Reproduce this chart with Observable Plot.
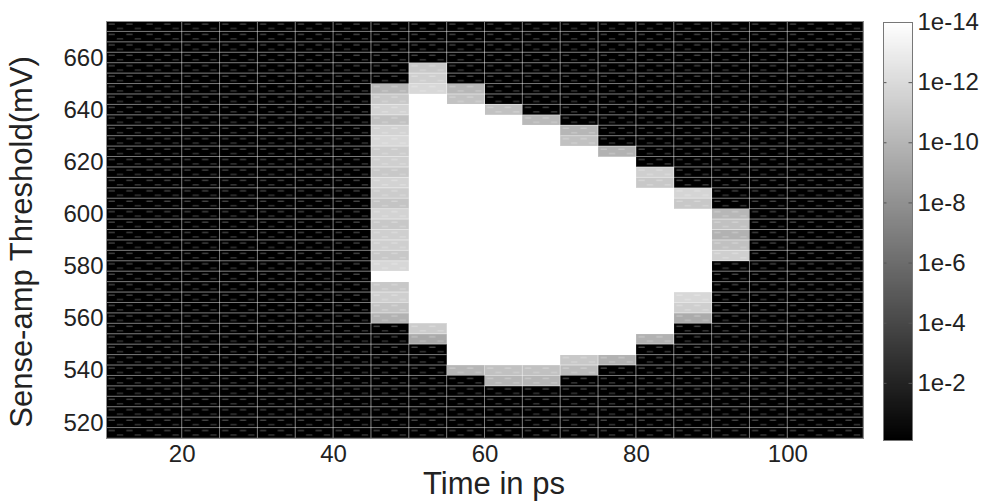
<!DOCTYPE html>
<html><head><meta charset="utf-8">
<script src="https://cdn.jsdelivr.net/npm/d3@7"></script>
<script src="https://cdn.jsdelivr.net/npm/@observablehq/plot@0.6"></script>
<style>
html,body{margin:0;padding:0;background:#fff;}
#wrap{position:relative;width:991px;height:501px;overflow:hidden;background:#fff;}
#wrap svg{position:absolute;top:0;}
</style></head><body><div id="wrap"></div>
<script>
// Column boundaries (ps) and row boundaries (mV)
const xEdges = [10, 20, 25, 30, 35, 40, 45, 50, 55, 60, 65, 70, 75, 80, 85, 90, 95, 100, 110];
const yEdges = d3.range(514, 678, 4); // 514 ... 674
const xTicks = [20, 40, 60, 80, 100];
const yTicks = [520, 540, 560, 580, 600, 620, 640, 660];
const colorTicks = [1e-14, 1e-12, 1e-10, 1e-8, 1e-6, 1e-4, 1e-2];
const backgroundExp = -0.05; // log10 error rate of the dark region

// Columns (left edge, ps) that contain non-dark cells, with runs [top mV, bottom mV, log10 error rate]
const grayColumns = [45, 50, 55, 60, 65, 70, 75, 80, 85, 90];
const grayRuns = [
  [[650,646,-10.0],[646,642,-11.0],[642,638,-11.6],[638,634,-10.6],[634,630,-11.6],[630,626,-11.9],
   [626,622,-11.2],[622,618,-11.4],[618,614,-11.0],[614,610,-11.6],[610,606,-11.2],[606,602,-10.8],
   [602,598,-11.6],[598,594,-11.0],[594,590,-11.4],[590,586,-11.4],[586,582,-11.0],[582,578,-11.8],
   [578,574,-14],[574,570,-11.0],[570,566,-11.4],[566,562,-10.8],[562,558,-9.8]],
  [[658,654,-11.0],[654,650,-11.4],[650,646,-11.9],[646,558,-14],[558,554,-11.2],[554,550,-9.3]],
  [[650,646,-10.1],[646,642,-10.7],[642,542,-14],[542,538,-10.0]],
  [[642,638,-10.6],[638,542,-14],[542,538,-10.6],[538,534,-10.0]],
  [[638,634,-10.2],[634,542,-14],[542,538,-10.6],[538,534,-10.0]],
  [[634,630,-10.0],[630,626,-10.6],[626,546,-14],[546,542,-11.0],[542,538,-10.3]],
  [[626,622,-9.8],[622,546,-14],[546,542,-9.8]],
  [[618,614,-11.4],[614,610,-11.0],[610,554,-14],[554,550,-9.8]],
  [[610,606,-11.7],[606,602,-11.0],[602,570,-14],[570,566,-11.9],[566,562,-11.4],[562,558,-9.4]],
  [[602,598,-10.1],[598,594,-10.6],[594,590,-9.8],[590,586,-10.6],[586,582,-11.4]]
];

const cells = [];
for (let i = 0; i < xEdges.length - 1; i++) {
  const x1 = xEdges[i], x2 = xEdges[i + 1];
  const ci = grayColumns.indexOf(x1);
  for (let j = 0; j < yEdges.length - 1; j++) {
    const y1 = yEdges[j], y2 = yEdges[j + 1], yc = (y1 + y2) / 2;
    let e = backgroundExp;
    if (ci >= 0) {
      const r = grayRuns[ci].find(r => yc < r[0] && yc > r[1]);
      if (r) e = r[2];
    }
    cells.push({x1, x2, y1, y2, exp: e, value: Math.pow(10, e)});
  }
}

const FONT = "'Liberation Sans', Arial, Helvetica, sans-serif";
const colorScale = {type: "log", domain: [1e-14, Math.pow(10, -0.1)], range: ["#ffffff", "#000000"], interpolate: "rgb", clamp: true};

const main = Plot.plot({
  width: 991, height: 501,
  marginLeft: 106, marginRight: 128, marginTop: 21, marginBottom: 63,
  style: {fontSize: "24px", fontFamily: FONT, color: "#222", background: "transparent", overflow: "visible"},
  x: {domain: [10, 110], ticks: xTicks, tickSize: 0, tickPadding: 6, label: null},
  y: {domain: [514, 674], ticks: yTicks, tickSize: 0, tickPadding: 3, label: null},
  color: colorScale,
  marks: [
    Plot.rect(cells, {x1: "x1", x2: "x2", y1: "y1", y2: "y2", fill: "value", shapeRendering: "crispEdges"}),
    Plot.rect(cells.filter(d => d.exp > -13.5), {x1: "x1", x2: "x2", y1: "y1", y2: "y2",
      fill: "url(#sa-dash)", stroke: "rgba(255,255,255,0.28)", strokeWidth: 1}),
    Plot.frame({stroke: "#8a8a8a"}),
    Plot.text(["Time in ps"], {text: d => d, frameAnchor: "bottom", lineAnchor: "top", dy: 33, dx: 9, fontSize: 31, fill: "#222"}),
    Plot.text(["Sense-amp Threshold(mV)"], {text: d => d, frameAnchor: "left", rotate: -90, textAnchor: "middle", lineAnchor: "middle", dx: -84, dy: 12, fontSize: 31, fill: "#222"})
  ]
});

// dash texture pattern aligned with the cell grid
{
  const sx = main.scale("x"), sy = main.scale("y");
  const px = sx.apply(20), pw = sx.apply(25) - sx.apply(20);
  const py = sy.apply(674), ph = sy.apply(670) - sy.apply(674);
  const pat = d3.select(main).insert("defs", ":first-child").append("pattern")
    .attr("id", "sa-dash").attr("patternUnits", "userSpaceOnUse")
    .attr("x", px).attr("y", py).attr("width", pw).attr("height", ph);
  const dashes = [[0.08,0.30,0.22],[0.55,0.30,0.69],[0.30,0.72,0.44],[0.77,0.72,0.91]];
  for (const [a, yy, b] of dashes) {
    pat.append("line").attr("x1", a * pw).attr("x2", b * pw).attr("y1", yy * ph).attr("y2", yy * ph)
      .attr("stroke", "rgba(255,255,255,0.26)").attr("stroke-width", 1.3).attr("stroke-linecap", "round");
  }
}

const cbStops = d3.range(-14, -0.1, 0.05);
const colorbar = Plot.plot({
  width: 131, height: 501,
  marginLeft: 23, marginRight: 79, marginTop: 22, marginBottom: 61,
  style: {fontSize: "24px", fontFamily: FONT, color: "#222", background: "transparent", overflow: "visible"},
  x: {domain: [0, 1], axis: null},
  y: {type: "log", domain: [1e-14, Math.pow(10, -0.1)], reverse: true, axis: "right", ticks: colorTicks,
      tickFormat: d => "1e" + Math.round(Math.log10(d)), tickSize: 0, tickPadding: 5, label: null},
  color: colorScale,
  marks: [
    Plot.rect(cbStops, {x1: 0, x2: 1, y1: e => Math.pow(10, e), y2: e => Math.pow(10, Math.min(e + 0.05, -0.1)),
      fill: e => Math.pow(10, e + 0.025), shapeRendering: "crispEdges"}),
    Plot.ruleY(colorTicks.slice(1), {x1: 0, x2: 0.12, stroke: "#555"}),
    Plot.ruleY(colorTicks.slice(1), {x1: 0.88, x2: 1, stroke: "#555"}),
    Plot.frame({stroke: "#777"})
  ]
});

const wrap = document.getElementById("wrap");
main.style.left = "0px";
colorbar.style.left = "860px";
wrap.appendChild(main);
wrap.appendChild(colorbar);
</script>
</body></html>
